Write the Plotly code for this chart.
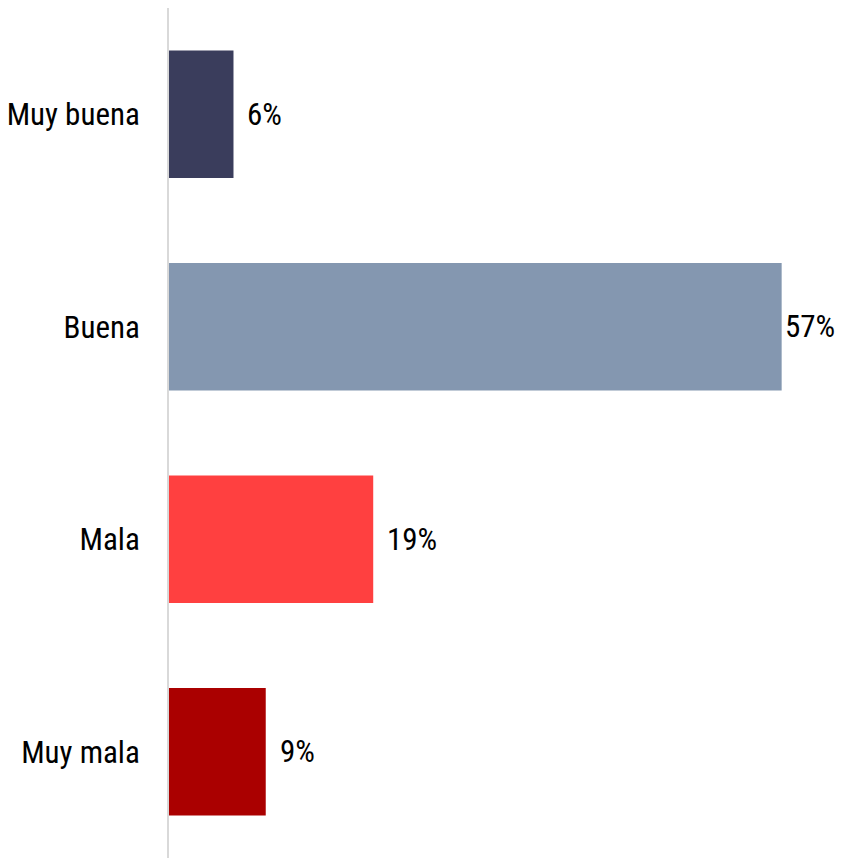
import plotly.graph_objects as go

categories = ["Muy buena", "Buena", "Mala", "Muy mala"]
values = [6, 57, 19, 9]
labels = ["6%", "57%", "19%", "9%"]
colors = ["#3a3d5c", "#8497b0", "#ff4040", "#aa0000"]
label_shift = [12, 1, 12, 12]

FONT = ("Liberation Sans Narrow, Arial Narrow, Roboto Condensed, Noto Sans Condensed, "
        "DejaVu Sans Condensed, Liberation Sans, Arial, sans-serif")

fig = go.Figure()
fig.add_trace(go.Bar(
    y=categories, x=values, orientation="h",
    marker=dict(color=colors, line=dict(width=0)),
    hoverinfo="skip",
))

for c, v, t, s in zip(categories, values, labels, label_shift):
    fig.add_annotation(x=v, y=c, text=t, showarrow=False, xanchor="left",
                       xshift=s, font=dict(family=FONT, size=31, color="#000000"))

fig.update_layout(
    width=836, height=850,
    margin=dict(l=161, r=0, t=0, b=0, autoexpand=False),
    paper_bgcolor="white", plot_bgcolor="white",
    bargap=0.4, showlegend=False,
    font=dict(family=FONT, size=31, color="#000000"),
)
fig.update_xaxes(range=[0, 62.8], showgrid=False, zeroline=False, showticklabels=False,
                 showline=False, fixedrange=True, automargin=False)
fig.update_yaxes(autorange="reversed", showgrid=False, zeroline=False, showline=True,
                 linecolor="#d9d9d9", linewidth=2, ticks="", ticklabelstandoff=21,
                 automargin=False,
                 tickfont=dict(family=FONT, size=31, color="#000000"))

fig.write_html("out.html")
